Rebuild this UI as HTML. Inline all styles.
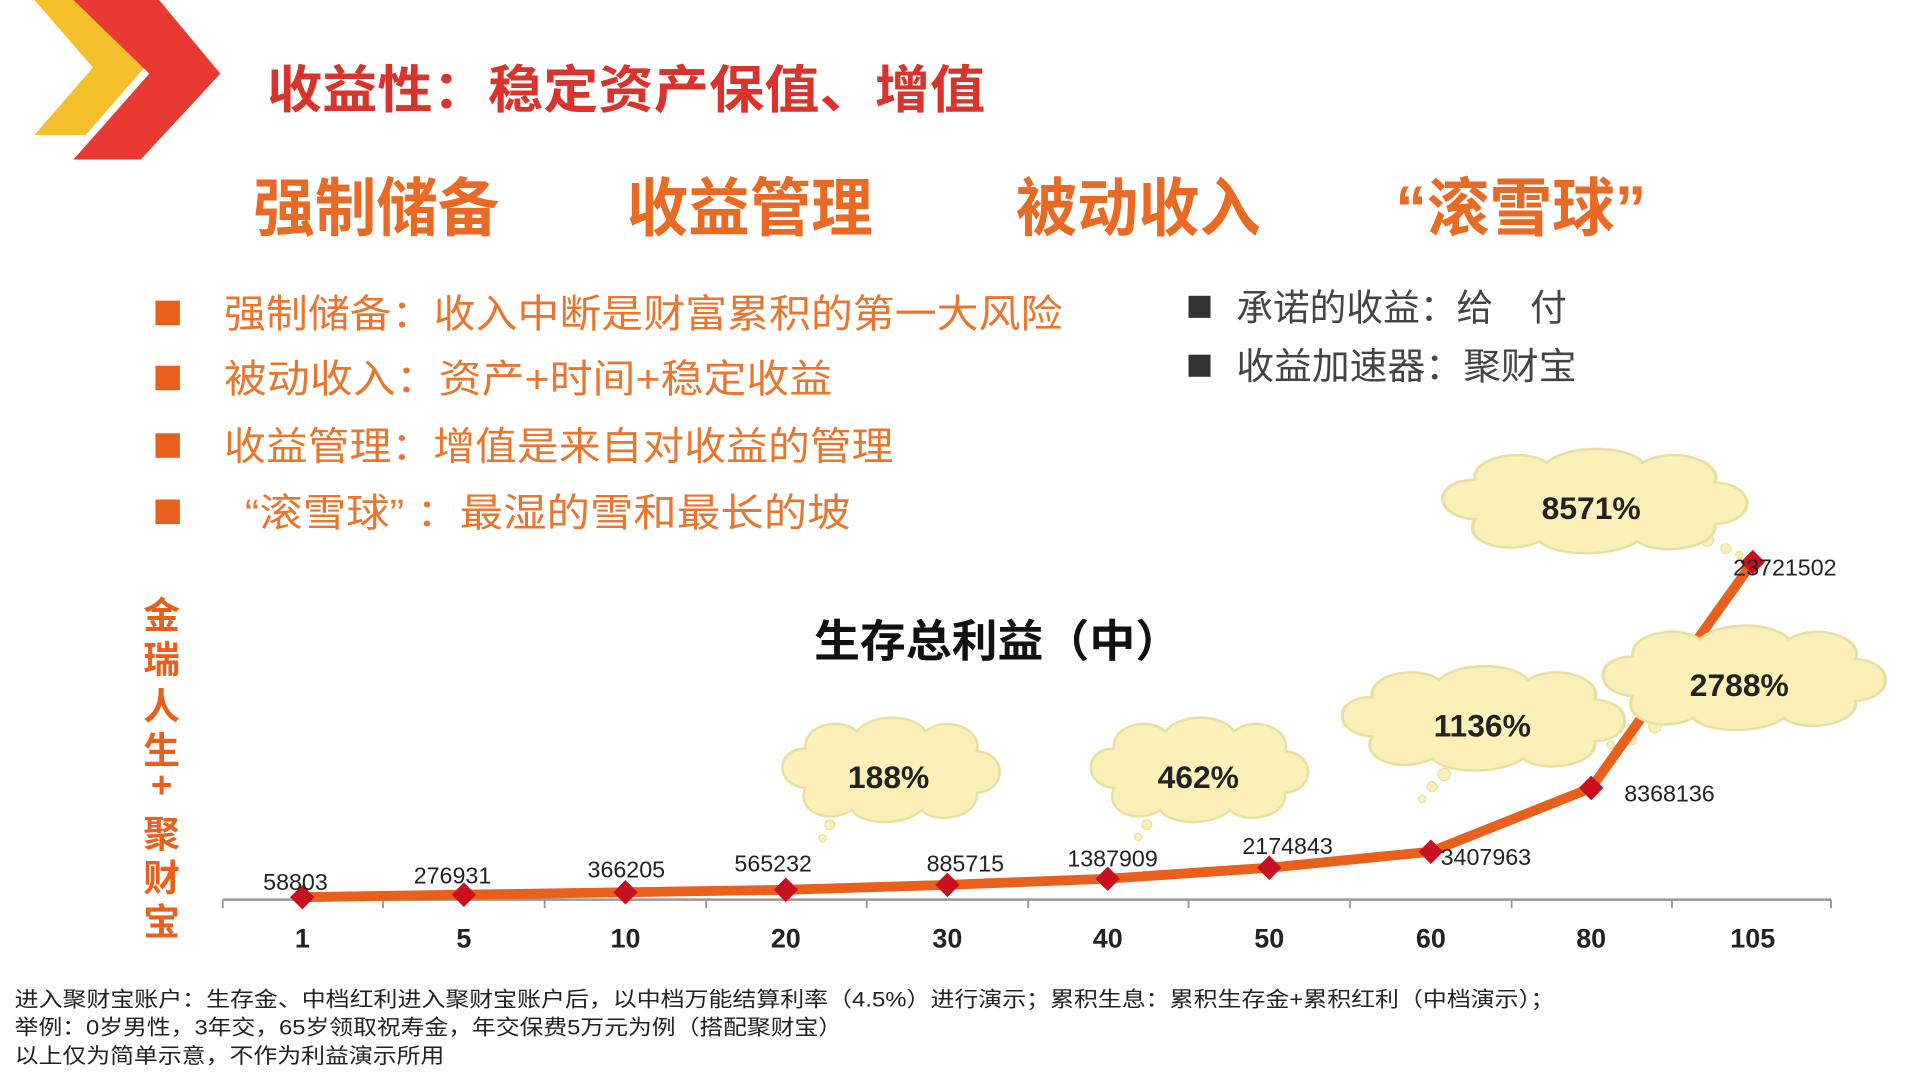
<!DOCTYPE html>
<html><head><meta charset="utf-8"><style>
html,body{margin:0;padding:0;background:#fff;overflow:hidden;width:1920px;height:1080px}
#s{position:absolute;left:0;top:0;width:1546px;height:880px;transform:scale(1.224,1.2273);transform-origin:0 0}
text{font-family:"Liberation Sans","Noto Sans CJK SC",sans-serif}
</style></head><body>
<svg id="s" width="1546" height="880" viewBox="0 0 1546 880">
<defs>
<g id="cl"><path d="M-70,10 C-95,8 -95,-22 -70,-22 C-72,-42 -40,-48 -28,-36 C-15,-52 20,-50 28,-36 C45,-50 75,-38 70,-20 C95,-18 95,12 70,14 C72,35 35,40 25,28 C10,42 -25,40 -32,28 C-50,40 -78,30 -70,10Z" fill="#fbf1b8" stroke="#e9dfa0" stroke-width="2"/></g>
</defs>
<polygon points="28,0 70,0 118,55 70,110 28,110 76,55" fill="#f4c02b"/>
<polygon points="60,0 130,0 180,60 115,130 60,130 122,60" fill="#e83a33"/>
<text x="218" y="88" font-size="42" font-weight="bold" fill="#d9342b" textLength="587" lengthAdjust="spacingAndGlyphs">收益性：稳定资产保值、增值</text>
<g font-size="52" font-weight="bold" fill="#e96a24">
<text x="207" y="188" textLength="201" lengthAdjust="spacingAndGlyphs">强制储备</text><text x="512" y="188" textLength="201" lengthAdjust="spacingAndGlyphs">收益管理</text><text x="830" y="188" textLength="200" lengthAdjust="spacingAndGlyphs">被动收入</text><text x="1140" y="188" textLength="205" lengthAdjust="spacingAndGlyphs">“滚雪球”</text>
</g>
<g fill="#e8601c"><rect x="127" y="245" width="20" height="20"/><rect x="127" y="298" width="20" height="20"/><rect x="127" y="353" width="20" height="20"/><rect x="127" y="407" width="20" height="20"/></g>
<g font-size="32" fill="#e8762e">
<text x="183" y="267" textLength="685" lengthAdjust="spacingAndGlyphs">强制储备：收入中断是财富累积的第一大风险</text>
<text x="183" y="320" textLength="497" lengthAdjust="spacingAndGlyphs">被动收入：资产+时间+稳定收益</text>
<text x="183" y="375" textLength="547" lengthAdjust="spacingAndGlyphs">收益管理：增值是来自对收益的管理</text>
<text x="200" y="429" textLength="495" lengthAdjust="spacingAndGlyphs">“滚雪球” ：最湿的雪和最长的坡</text>
</g>
<g fill="#333"><rect x="971" y="241" width="18" height="18"/><rect x="971" y="289" width="18" height="18"/></g>
<g font-size="30" fill="#444"><text x="1010" y="261" textLength="270" lengthAdjust="spacingAndGlyphs">承诺的收益：给　付</text><text x="1010" y="309" textLength="278" lengthAdjust="spacingAndGlyphs">收益加速器：聚财宝</text></g>
<g font-size="30" font-weight="bold" fill="#e8601c" text-anchor="middle">
<text x="132" y="512">金</text><text x="132" y="548">瑞</text><text x="132" y="586">人</text><text x="132" y="622">生</text><text x="132" y="650">+</text><text x="132" y="690">聚</text><text x="132" y="726">财</text><text x="132" y="762">宝</text>
</g>
<text x="665" y="535" font-size="36" font-weight="bold" fill="#111" textLength="300" lengthAdjust="spacingAndGlyphs">生存总利益（中）</text>
<line x1="182" y1="733" x2="1496" y2="733" stroke="#999" stroke-width="2"/>
<g stroke="#999" stroke-width="1.5">
<line x1="182" y1="733" x2="182" y2="740"/><line x1="313" y1="733" x2="313" y2="740"/><line x1="445" y1="733" x2="445" y2="740"/><line x1="577" y1="733" x2="577" y2="740"/><line x1="708" y1="733" x2="708" y2="740"/><line x1="840" y1="733" x2="840" y2="740"/><line x1="971" y1="733" x2="971" y2="740"/><line x1="1103" y1="733" x2="1103" y2="740"/><line x1="1235" y1="733" x2="1235" y2="740"/><line x1="1366" y1="733" x2="1366" y2="740"/><line x1="1496" y1="733" x2="1496" y2="740"/>
</g>
<g font-size="22" font-weight="bold" fill="#222" text-anchor="middle">
<text x="247" y="772">1</text><text x="379" y="772">5</text><text x="511" y="772">10</text><text x="642" y="772">20</text><text x="774" y="772">30</text><text x="905" y="772">40</text><text x="1037" y="772">50</text><text x="1169" y="772">60</text><text x="1300" y="772">80</text><text x="1432" y="772">105</text>
</g>
<g fill="#fbf1b8" stroke="#e9dfa0"><circle cx="672" cy="683" r="3"/><circle cx="678" cy="672" r="4"/><circle cx="930" cy="682" r="3"/><circle cx="937" cy="672" r="4"/><circle cx="1162" cy="651" r="3"/><circle cx="1170" cy="641" r="4"/><circle cx="1180" cy="631" r="5"/><circle cx="1316" cy="607" r="3"/><circle cx="1333" cy="603" r="4"/><circle cx="1352" cy="592" r="5"/><circle cx="1395" cy="440" r="5"/><circle cx="1410" cy="447" r="4"/><circle cx="1421" cy="452" r="3"/></g>
<use href="#cl" transform="translate(728,632)"/>
<use href="#cl" transform="translate(980,632)"/>
<use href="#cl" transform="translate(1212,590) scale(1.3,1)"/>
<use href="#cl" transform="translate(1303,413) scale(1.4,1)"/>
<polyline points="247,731 379,729 511,727 642,725 774,721 905,716 1037,707 1169,694 1300,642 1432,458" fill="none" stroke="#e8601c" stroke-width="8" stroke-linejoin="round"/>
<use href="#cl" transform="translate(1425,557) scale(1.3,1)"/>
<g fill="#c8101e">
<polygon points="247,721 257,731 247,741 237,731"/><polygon points="379,719 389,729 379,739 369,729"/><polygon points="511,717 521,727 511,737 501,727"/><polygon points="642,715 652,725 642,735 632,725"/><polygon points="774,711 784,721 774,731 764,721"/><polygon points="905,706 915,716 905,726 895,716"/><polygon points="1037,697 1047,707 1037,717 1027,707"/><polygon points="1169,684 1179,694 1169,704 1159,694"/><polygon points="1300,632 1310,642 1300,652 1290,642"/><polygon points="1432,448 1442,458 1432,468 1422,458"/>
</g>
<g font-size="19" fill="#222">
<text x="215" y="725">58803</text><text x="338" y="720">276931</text><text x="480" y="715">366205</text><text x="600" y="710">565232</text><text x="757" y="710">885715</text><text x="872" y="706">1387909</text><text x="1015" y="696">2174843</text><text x="1177" y="705">3407963</text><text x="1327" y="653">8368136</text><text x="1416" y="469">23721502</text>
</g>
<g font-size="26" font-weight="bold" fill="#222" text-anchor="middle">
<text x="726" y="642">188%</text><text x="979" y="642">462%</text><text x="1211" y="600">1136%</text><text x="1421" y="567">2788%</text><text x="1300" y="423">8571%</text>
</g>
<g font-size="17" fill="#222">
<text x="12" y="820" textLength="1258" lengthAdjust="spacingAndGlyphs">进入聚财宝账户：生存金、中档红利进入聚财宝账户后，以中档万能结算利率（4.5%）进行演示；累积生息：累积生存金+累积红利（中档演示）；</text>
<text x="12" y="843" textLength="676" lengthAdjust="spacingAndGlyphs">举例：0岁男性，3年交，65岁领取祝寿金，年交保费5万元为例（搭配聚财宝）</text>
<text x="12" y="866" textLength="351" lengthAdjust="spacingAndGlyphs">以上仅为简单示意，不作为利益演示所用</text>
</g>
</svg>
</body></html>
